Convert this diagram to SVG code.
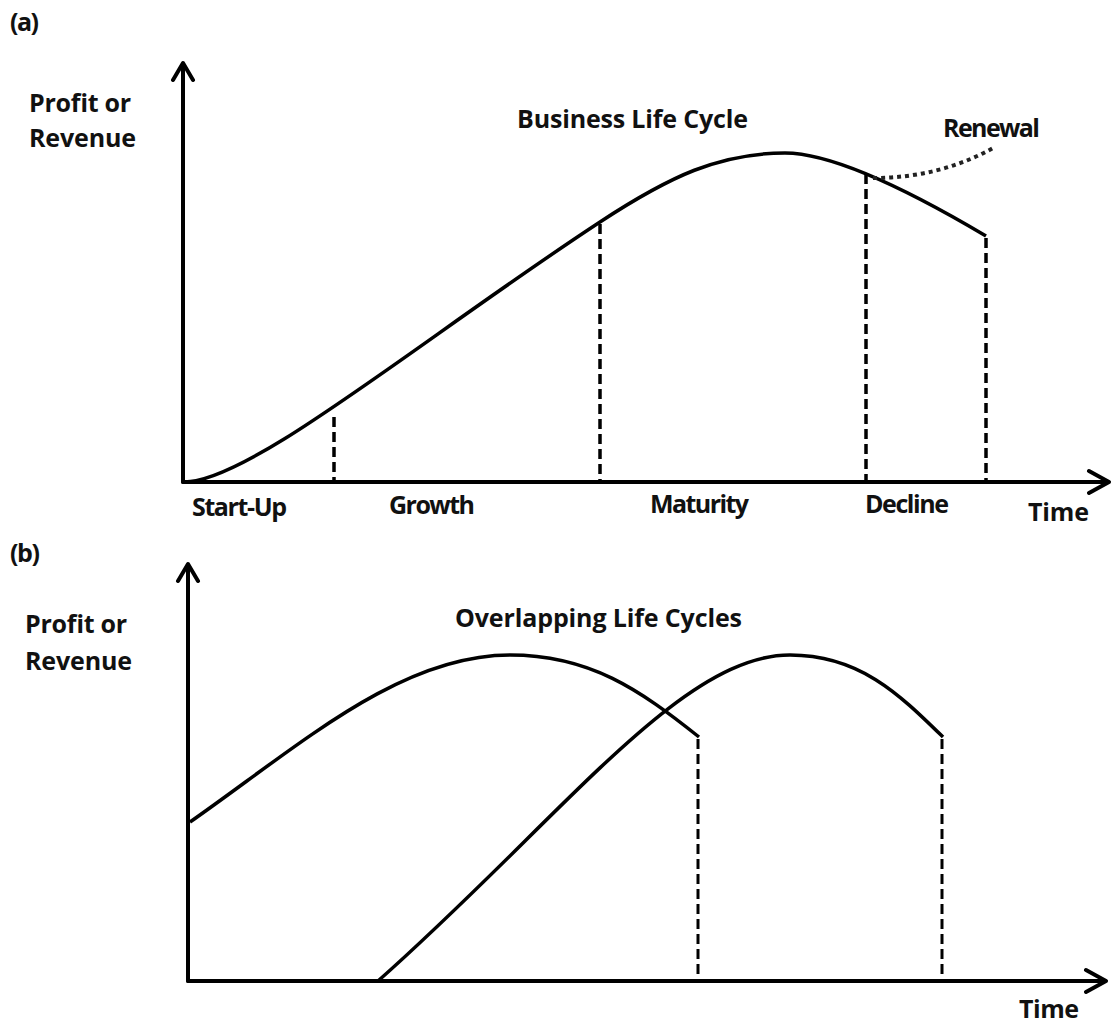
<svg xmlns="http://www.w3.org/2000/svg" width="1115" height="1026" viewBox="0 0 1115 1026">
<style>
text{font-family:"Open Sans","Liberation Sans",sans-serif;font-weight:700;fill:#111;font-size:25px}
.ax{stroke:#000;stroke-width:4;fill:none;stroke-linecap:round;stroke-linejoin:round}
.cv{stroke:#000;stroke-width:3.5;fill:none;stroke-linejoin:round}
.da{stroke:#000;stroke-width:3.5;fill:none;stroke-dasharray:10 5}
.db{stroke:#000;stroke-width:3;fill:none;stroke-dasharray:10 5}
.dot{stroke:#222;stroke-width:4;fill:none;stroke-dasharray:4 4}
</style>
<rect width="1115" height="1026" fill="#fff"/>
<g id="panel-a">
  <text id="label-a" x="10" y="31" textLength="29">(a)</text>
  <g id="axes-a">
    <path class="ax" d="M183,482 L183,64 M173,80 L183,63 L193,80"/>
    <path class="ax" d="M183,482 L1108,482 M1089,471 L1109,482 L1089,493"/>
  </g>
  <text id="ylabel-a1" x="29" y="112" textLength="102">Profit or</text>
  <text id="ylabel-a2" x="29" y="147" textLength="107">Revenue</text>
  <text id="title-a" x="517" y="128" textLength="231">Business Life Cycle</text>
  <text id="renewal" x="943" y="137" textLength="97" font-size="23">Renewal</text>
  <g id="curve-a">
    <path class="cv" d="M184,482 C250,482 420,340 600,222 C670,176 720,153 785,153 C830,153 900,185 986,236"/>
  </g>
  <g id="connectors-a">
    <path class="da" d="M334,417 L334,482"/>
    <path class="da" d="M600,224 L600,482"/>
    <path class="da" d="M866,174 L866,482"/>
    <path class="da" d="M986,238 L986,482"/>
    <path class="dot" d="M873,178 Q940,178 995,147"/>
  </g>
  <text id="startup" x="192" y="516" textLength="95">Start-Up</text>
  <text id="growth" x="389" y="514" textLength="86">Growth</text>
  <text id="maturity" x="650" y="513" textLength="99">Maturity</text>
  <text id="decline" x="865" y="513" textLength="84">Decline</text>
  <text id="time-a" x="1028" y="521" textLength="61">Time</text>
</g>
<g id="panel-b">
  <text id="label-b" x="10" y="562" textLength="30">(b)</text>
  <g id="axes-b">
    <path class="ax" d="M188,981 L188,565 M178,581 L188,564 L198,581"/>
    <path class="ax" d="M188,981 L1105,981 M1086,970 L1106,981 L1086,992"/>
  </g>
  <text id="ylabel-b1" x="25" y="633" textLength="102">Profit or</text>
  <text id="ylabel-b2" x="25" y="670" textLength="107">Revenue</text>
  <text id="title-b" x="455" y="627" textLength="287">Overlapping Life Cycles</text>
  <g id="curves-b">
    <path class="cv" d="M190,822 C300,745 400,655 510,655 C590,655 640,690 699,737"/>
    <path class="cv" d="M378,981 C560,820 680,655 790,655 C860,655 900,695 943,737"/>
  </g>
  <g id="connectors-b">
    <path class="db" d="M698,739 L698,981"/>
    <path class="db" d="M942,739 L942,981"/>
  </g>
  <text id="time-b" x="1019" y="1018" textLength="60">Time</text>
</g>
</svg>
